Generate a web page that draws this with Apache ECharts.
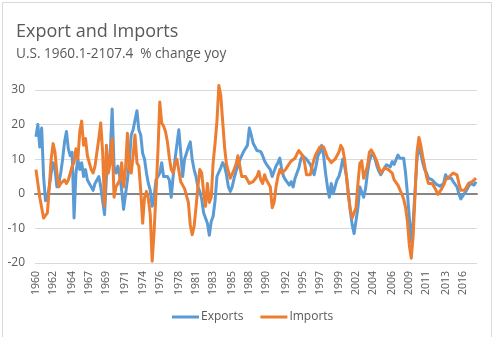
<!DOCTYPE html>
<html>
<head>
<meta charset="utf-8">
<script src="https://cdn.jsdelivr.net/npm/echarts@6/dist/echarts.min.js"></script>
<style>
  html, body { margin: 0; padding: 0; background: #fff; }
  #chart { width: 492px; height: 337px; }
</style>
</head>
<body>
<div id="chart"></div>
<script>
// Quarterly data, 1960 Q1 through 2017 Q4, % change from a year earlier
const firstYear = 1960;
const lastYear = 2017;

const exportsYoy = [
  16.5, 20, 13.5, 19,     // 1960
  5, -2, -1, 2,           // 1961
  6, 9, 7, 2,             // 1962
  3, 6, 10, 15,           // 1963
  18, 13, 11, 12,         // 1964
  -7, 6, 10, 7,           // 1965
  9, 5, 7, 4,             // 1966
  3, 2, 1, 3,             // 1967
  3, 5, 2, 2,             // 1968
  -6, 5, 9, 12,           // 1969
  24.5, 8, 6, 8,          // 1970
  5, 1, -4.5, -4,         // 1971
  4, 9, 17, 18.5,         // 1972
  18, 24, 18.5, 17,       // 1973
  11.7, 10, 6, 3,         // 1974
  1, -3.6, -1, 4,         // 1975
  3.5, 6, 9, 5,           // 1976
  4.5, 5, 4, -1,          // 1977
  5, 10, 10, 18.5,        // 1978
  12, 5, 10, 11.7,        // 1979
  13.5, 15, 10, 7,        // 1980
  5, 2, 0.7, -1.5,        // 1981
  -5.5, -7, -8.5, -12,    // 1982
  -8, -6.5, -2, 5,        // 1983
  5.5, 7.5, 9, 8,         // 1984
  5.5, 2, 0.7, 2,         // 1985
  4.5, 6.5, 8, 9.8,       // 1986
  11, 12.2, 12.7, 14,     // 1987
  19, 17, 14.6, 15,       // 1988
  12.5, 13, 12.2, 11,     // 1989
  9.5, 8.5, 8, 7,         // 1990
  5, 6.5, 8, 9,           // 1991
  10.3, 7, 5, 4,          // 1992
  3.5, 2.5, 3.5, 2,       // 1993
  4.5, 5, 7.5, 10,        // 1994
  11, 10.5, 10, 9.5,      // 1995
  8.5, 8, 5.5, 8,         // 1996
  11, 12, 14, 11,         // 1997
  6, 2, -1, 3,            // 1998
  0, 2, 4, 5,             // 1999
  7, 10, 8, 5,            // 2000
  0, -5, -9, -11.5,       // 2001
  -11, -4, 2, 2,          // 2002
  -1, 1.5, 6, 9.5,        // 2003
  11, 11.7, 10, 8,        // 2004
  6.5, 5.5, 6.5, 7.5,     // 2005
  8.4, 8.8, 7.8, 9.3,     // 2006
  8.5, 8.2, 11.2, 10.3,   // 2007
  9.8, 10.3, 6, 0,        // 2008
  -7, -14, -8, 1,         // 2009
  10, 13.8, 11.7, 9,      // 2010
  7, 6, 4.5, 4,           // 2011
  4, 3.5, 2.8, 2.3,       // 2012
  2.2, 2, 3, 5.5,         // 2013
  4.5, 5, 4.5, 3.5,       // 2014
  3, 2, 0, -1.5,          // 2015
  -1.2, 0.2, 1, 2,        // 2016
  3, 3, 2.5, 3.5          // 2017
];

const importsYoy = [
  7, 3, -1, -4,           // 1960
  -7, -7.5, -5.5, 2,      // 1961
  10, 14.5, 12, 6,        // 1962
  2, 3, 2.5, 4,           // 1963
  3, 4, 6, 8,             // 1964
  9, 13, 10, 18,          // 1965
  21, 14, 16, 11,         // 1966
  9, 7, 6, 8,             // 1967
  12, 16, 20.5, 12,       // 1968
  -3.5, 14, 6, 9,         // 1969
  16, -1, 2, 3,           // 1970
  4, 9, 2, 7,             // 1971
  17.5, 7, 6, 11,         // 1972
  17, 9, 8, 1,            // 1973
  -8.5, -1, 0.7, -1.5,    // 1974
  -6, -19.5, -11, 0,      // 1975
  12, 26.5, 20.5, 19.5,   // 1976
  18, 15, 10.5, 7,        // 1977
  6, 8.5, 10, 9.8,        // 1978
  3.5, 2.5, 1.5, 1,       // 1979
  -2.5, -9, -11.8, -9.5,  // 1980
  -4, 2, 7, 6,            // 1981
  0.5, -3.6, 3, -2.5,     // 1982
  -1, 9, 14.5, 21,        // 1983
  31.3, 28.5, 21, 13.5,   // 1984
  8.5, 6.5, 4.5, 5,       // 1985
  7, 8.5, 11, 8,          // 1986
  5, 4.5, 5, 4.5,         // 1987
  3, 2.6, 3.5, 4,         // 1988
  5, 6.5, 4, 3,           // 1989
  5.5, 4, 3.5, 2,         // 1990
  -4, -2.5, 2, 5,         // 1991
  7, 6, 6.5, 7,           // 1992
  7.9, 8, 9.5, 9.8,       // 1993
  10.3, 11.5, 12.5, 12.5, // 1994
  11, 9, 5.5, 5,          // 1995
  5.5, 8, 10, 11.5,       // 1996
  12.5, 13.5, 14, 13.5,   // 1997
  12, 10.5, 9.8, 9,       // 1998
  9.5, 10, 11, 12,        // 1999
  14, 13, 10, 5,          // 2000
  -0.5, -4.5, -7, -7,     // 2001
  -4, 3, 8.8, 9.5,        // 2002
  4.5, 4, 8, 12,          // 2003
  12.7, 11.7, 10.5, 9.3,  // 2004
  7.5, 6, 6, 7.5,         // 2005
  7.4, 7, 6.5, 6,         // 2006
  4, 3.5, 2.5, 1.2,       // 2007
  0, -1.5, -4, -8,        // 2008
  -15, -18.6, -12, 0,     // 2009
  12, 16.3, 14, 10.8,     // 2010
  8, 5, 3, 3.5,           // 2011
  3, 2.5, 1, -0.2,        // 2012
  0.2, 1.5, 2.5, 4,       // 2013
  4.5, 5, 5.5, 6,         // 2014
  6.4, 5.5, 3, 1,         // 2015
  0.5, 1, 2, 3,           // 2016
  3.5, 3.5, 3.5, 4.5      // 2017
];

// Year labels shown along the bottom, one every 28 months
const tickYears = [1960, 1962, 1964, 1967, 1969, 1971, 1974, 1976, 1978,
  1981, 1983, 1985, 1988, 1990, 1992, 1995, 1997, 1999, 2002, 2004,
  2006, 2009, 2011, 2013, 2016];

const yTicks = { min: -20, max: 30, step: 10 };

// One category per quarter, labelled with its year
const quarters = [];
for (let y = firstYear; y <= lastYear; y++) {
  for (let q = 1; q <= 4; q++) quarters.push(String(y));
}
// 28 months = 28/3 quarters between consecutive year labels
const labelQuarter = new Set(tickYears.map((y, k) => Math.round(k * 28 / 3)));

const FONT = 'Open Sans';
const GREY_TEXT = '#595959';

const chart = echarts.init(document.getElementById('chart'), null, { renderer: 'canvas' });

chart.setOption({
  animation: false,
  backgroundColor: '#ffffff',
  textStyle: { fontFamily: FONT },
  graphic: [{
    type: 'rect',
    left: 0, top: 0,
    shape: { x: 0.5, y: 0.5, width: 489, height: 335 },
    style: { fill: 'none', stroke: '#d9d9d9', lineWidth: 1 },
    silent: true
  }],
  title: {
    text: 'Export and Imports',
    subtext: 'U.S. 1960.1-2107.4  % change yoy',
    left: 11,
    top: 18,
    itemGap: 6,
    textStyle: { fontFamily: FONT, fontSize: 18, fontWeight: 'normal', color: GREY_TEXT },
    subtextStyle: { fontFamily: FONT, fontSize: 13.6, color: GREY_TEXT }
  },
  legend: {
    data: ['Exports', 'Imports'],
    left: 167,
    top: 306,
    icon: 'rect',
    itemWidth: 27,
    itemHeight: 3,
    itemGap: 17,
    textStyle: { fontFamily: FONT, fontSize: 12, color: GREY_TEXT, padding: [0, 0, 0, -3] }
  },
  grid: { left: 35, right: 15, top: 90, bottom: 74, containLabel: false },
  xAxis: [{
    type: 'category',
    data: quarters,
    boundaryGap: true,
    axisLine: { show: false, onZero: false },
    axisTick: { show: false },
    axisLabel: {
      interval: (i) => labelQuarter.has(i),
      rotate: 90,
      margin: 8,
      fontFamily: FONT,
      fontSize: 10.5,
      color: GREY_TEXT
    },
    splitLine: { show: false }
  }, {
    // the zero line
    type: 'category',
    data: quarters,
    boundaryGap: true,
    axisLine: { show: true, onZero: true, lineStyle: { color: '#868686', width: 2 } },
    axisTick: { show: false },
    axisLabel: { show: false },
    splitLine: { show: false }
  }],
  yAxis: {
    type: 'value',
    min: yTicks.min,
    max: yTicks.max,
    interval: yTicks.step,
    axisLine: { show: false },
    axisTick: { show: false },
    axisLabel: { margin: 10, fontFamily: FONT, fontSize: 12, color: GREY_TEXT },
    splitLine: { lineStyle: { color: '#d9d9d9', width: 1 } }
  },
  series: [{
    name: 'Exports',
    type: 'line',
    data: exportsYoy,
    xAxisIndex: 0,
    symbol: 'none',
    showSymbol: false,
    clip: false,
    itemStyle: { color: '#5b9bd5' },
    lineStyle: { color: '#5b9bd5', width: 3, join: 'round' }
  }, {
    name: 'Imports',
    type: 'line',
    data: importsYoy,
    xAxisIndex: 0,
    symbol: 'none',
    showSymbol: false,
    clip: false,
    itemStyle: { color: '#ed7d31' },
    lineStyle: { color: '#ed7d31', width: 3, join: 'round' }
  }]
});
</script>
</body>
</html>
